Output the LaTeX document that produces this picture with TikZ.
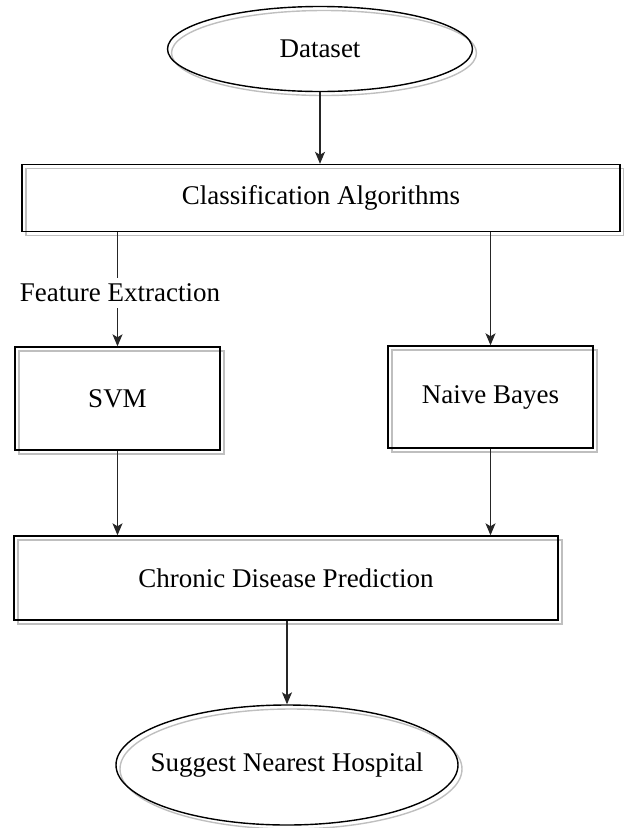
\documentclass[tikz,border=0pt]{standalone}
\usepackage{fontspec}
\setmainfont{Liberation Serif}
\usetikzlibrary{arrows.meta,shapes.geometric,shadows}
\newcommand\colorLink{black!85}

\tikzset{
	box/.style={draw, line width=1.4pt, rectangle, fill=none,
		copy shadow={shadow xshift=4pt, shadow yshift=-4pt, draw=black!25, fill=none, line width=1.4pt}},
	oval/.style={box, ellipse, inner sep=0pt},
	link/.style={color=\colorLink, line width=1.3pt},
}

\begin{document}
\begin{tikzpicture}[x=1pt, y=-1pt, font=\fontsize{27}{32}\selectfont,
		>={Stealth[length=12pt, width=10pt, inset=3pt]}]
		\useasboundingbox (0,0) rectangle (624,828);
	
		\node[oval, minimum width=305pt, minimum height=85pt] (data) at (320,49) {\makebox[0pt]{Dataset}};
		\node[box, minimum width=598pt, minimum height=67pt] (cls) at (321,198) {Classification Algorithms};
		\node[box, minimum width=205pt, minimum height=103pt] (svm) at (117.5,398.5) {SVM};
		\node[box, minimum width=205pt, minimum height=102pt] (nb) at (490.5,397) {Naive Bayes};
		\node[box, minimum width=544pt, minimum height=84pt] (cdp) at (286,578) {Chronic Disease Prediction};
		\node[oval, minimum width=342pt, minimum height=120pt] (hosp) at (287,765) {\makebox[0pt]{Suggest Nearest Hospital}};
		\node[inner xsep=1pt, inner ysep=6pt] (fe) at (120,293) {Feature Extraction};
	
		\draw[->, link] (data.south) -- (data.south |- cls.north);
		\draw[link] (cls.south -| svm) -- (fe.north -| svm);
		\draw[->, link] (fe.south -| svm) -- (svm);
		\draw[->, link] (cls.south -| nb) -- (nb);
		\draw[->, link] (svm) -- (svm |- cdp.north);
		\draw[->, link] (nb) -- (nb |- cdp.north);
		\draw[->, link] (cdp.south -| hosp) -- (hosp);
	\end{tikzpicture}
\end{document}
